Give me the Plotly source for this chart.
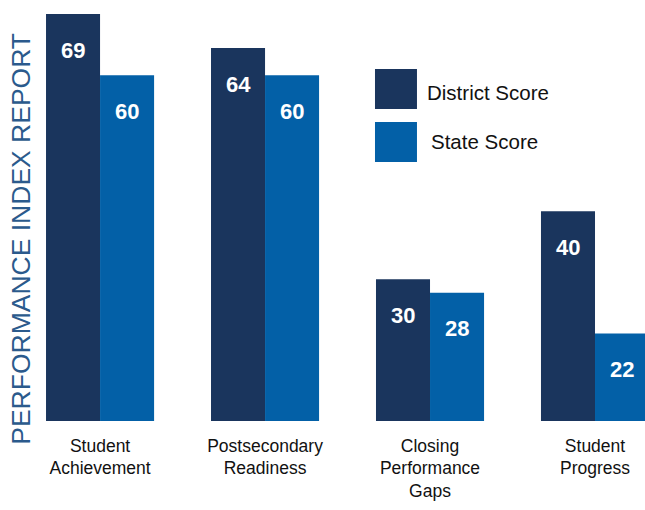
import plotly.graph_objects as go

categories = ["Student Achievement", "Postsecondary Readiness", "Closing Performance Gaps", "Student Progress"]
tick_labels = ["Student<br>Achievement", "Postsecondary<br>Readiness", "Closing<br>Performance<br>Gaps", "Student<br>Progress"]
district_scores = [69, 64, 30, 40]
state_scores = [60, 60, 28, 22]
series_names = ["District Score", "State Score"]

DISTRICT_COLOR = "#1a355d"
STATE_COLOR = "#0360a7"
FONT = "Liberation Sans, Arial, sans-serif"

fig = go.Figure()
fig.add_bar(name=series_names[0], x=categories, y=district_scores, marker=dict(color=DISTRICT_COLOR, line=dict(width=0)))
fig.add_bar(name=series_names[1], x=categories, y=state_scores, marker=dict(color=STATE_COLOR, line=dict(width=0)))

annotations = []
for cat, d, s in zip(categories, district_scores, state_scores):
    annotations.append(dict(x=cat, y=d, xref="x", yref="y", text=str(d), showarrow=False,
                            xshift=-27, yshift=-36, yanchor="middle",
                            font=dict(family=FONT, size=22, color="white", weight="bold")))
    annotations.append(dict(x=cat, y=s, xref="x", yref="y", text=str(s), showarrow=False,
                            xshift=27, yshift=-36, yanchor="middle",
                            font=dict(family=FONT, size=22, color="white", weight="bold")))

# y-axis title
annotations.append(dict(x=-0.031, y=0.4335, xref="paper", yref="paper", text="PERFORMANCE INDEX REPORT",
                        textangle=-90, showarrow=False, xanchor="center", yanchor="middle",
                        font=dict(family=FONT, size=26.5, color="#2b5a8c")))

# custom legend
legend_items = [(series_names[0], DISTRICT_COLOR, 0.741, 0.836, 0.636, 0.781),
                (series_names[1], STATE_COLOR, 0.615, 0.710, 0.643, 0.663)]
shapes = []
for name, color, y0, y1, tx, ty in legend_items:
    shapes.append(dict(type="rect", xref="paper", yref="paper", x0=0.5537, x1=0.6231, y0=y0, y1=y1,
                       fillcolor=color, line=dict(width=0)))
    annotations.append(dict(x=tx, y=ty, xref="paper", yref="paper", text=name, showarrow=False,
                            xanchor="left", yanchor="middle",
                            font=dict(family=FONT, size=20.5, color="#111111")))

fig.update_layout(
    width=645, height=510,
    margin=dict(l=40, r=0, t=0, b=89, pad=0),
    barmode="group", bargap=0.345, bargroupgap=0,
    plot_bgcolor="white", paper_bgcolor="white",
    showlegend=False,
    annotations=annotations, shapes=shapes,
    font=dict(family=FONT),
)
fig.update_xaxes(type="category", range=[-0.364, 3.303], tickvals=categories, ticktext=tick_labels,
                 ticks="", showline=False, showgrid=False, zeroline=False, ticklabelstandoff=12,
                 tickfont=dict(family=FONT, size=17.5, color="#111111"))
fig.update_yaxes(range=[9.15, 71.06], showticklabels=False, showgrid=False, zeroline=False, showline=False, ticks="")

fig.write_html("out.html", config={"displayModeBar": False},
               post_script="document.body.style.margin='0';document.body.style.overflow='hidden';")
